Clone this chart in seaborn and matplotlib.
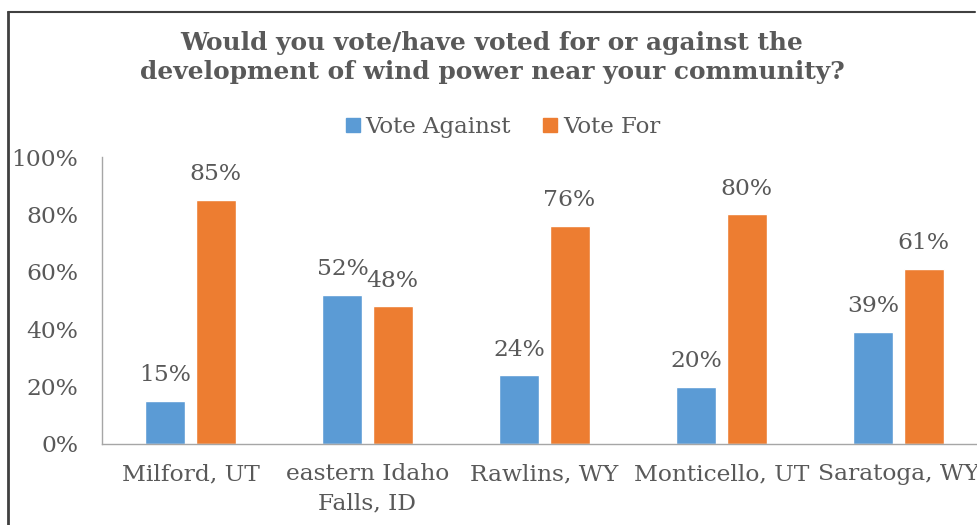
import matplotlib
matplotlib.use("Agg")
import matplotlib.pyplot as plt
from matplotlib.lines import Line2D
from matplotlib.ticker import FuncFormatter
import seaborn as sns
import pandas as pd

# Survey results by community (percent of respondents)
communities = ["Milford, UT", "eastern Idaho\nFalls, ID", "Rawlins, WY",
               "Monticello, UT", "Saratoga, WY"]
vote_against = [15, 52, 24, 20, 39]
vote_for = [85, 48, 76, 80, 61]
series_names = ["Vote Against", "Vote For"]
y_ticks = [0, 20, 40, 60, 80, 100]

title = ("Would you vote/have voted for or against the\n"
         "development of wind power near your community?")

BLUE = "#5B9BD5"
ORANGE = "#ED7D31"
TEXT = "#595959"
AXIS = "#A6A6A6"
FS = 16.8

df = pd.DataFrame({
    "community": communities * 2,
    "response": [series_names[0]] * len(communities) + [series_names[1]] * len(communities),
    "pct": vote_against + vote_for,
})

sns.set_theme(style="white")
plt.rcParams["font.family"] = ["DejaVu Serif", "Liberation Serif"]

W, H = 977, 525
fig = plt.figure(figsize=(W / 100, H / 100), dpi=100)
fig.patch.set_facecolor("white")

# plot area (the category axis runs slightly past the right edge of the canvas)
x0, x1, y0, y1 = 102, 987, 444, 157
ax = fig.add_axes([x0 / W, (H - y0) / H, (x1 - x0) / W, (y0 - y1) / H])

sns.barplot(data=df, x="community", y="pct", hue="response",
            order=communities, hue_order=series_names,
            palette=[BLUE, ORANGE], width=0.565, gap=0.2,
            saturation=1, legend=False, ax=ax)

for cont, vals in zip(ax.containers, [vote_against, vote_for]):
    ax.bar_label(cont, labels=[f"{v}%" for v in vals], padding=10.5,
                 fontsize=FS, color=TEXT)

ax.set_xlim(-0.5, len(communities) - 0.5)
ax.set_ylim(0, 100)
ax.set_yticks(y_ticks)
ax.yaxis.set_major_formatter(FuncFormatter(lambda v, _: f"{v:.0f}%"))
ax.set_xlabel("")
ax.set_ylabel("")
ax.tick_params(axis="both", length=0, labelsize=FS, labelcolor=TEXT)
ax.tick_params(axis="y", pad=17)
ax.tick_params(axis="x", pad=14)
for lbl in ax.get_xticklabels():
    lbl.set_linespacing(1.4)

for side in ["top", "right"]:
    ax.spines[side].set_visible(False)
for side in ["left", "bottom"]:
    ax.spines[side].set_color(AXIS)
    ax.spines[side].set_linewidth(1.0)

# legend above the plot area
handles = [plt.Rectangle((0, 0), 1, 1, color=c) for c in (BLUE, ORANGE)]
fig.legend(handles, series_names, loc="center", bbox_to_anchor=(503 / W, (H - 127) / H),
           ncol=2, frameon=False, fontsize=16.5, labelcolor=TEXT,
           handlelength=0.62, handleheight=0.62, handletextpad=0.25,
           columnspacing=1.4, borderpad=0)

fig.text(492 / W, (H - 57.5) / H, title, ha="center", va="center",
         fontsize=17.9, fontweight="bold", color=TEXT, linespacing=1.22)

# outer chart frame (left and top edges)
fig.add_artist(Line2D([8 / W, 8 / W], [0, (H - 12) / H], color="#404040",
                      linewidth=2.0, transform=fig.transFigure))
fig.add_artist(Line2D([8 / W, 975 / W], [(H - 12) / H, (H - 12) / H], color="#404040",
                      linewidth=1.5, transform=fig.transFigure))

fig.savefig("out.png", dpi=100)
